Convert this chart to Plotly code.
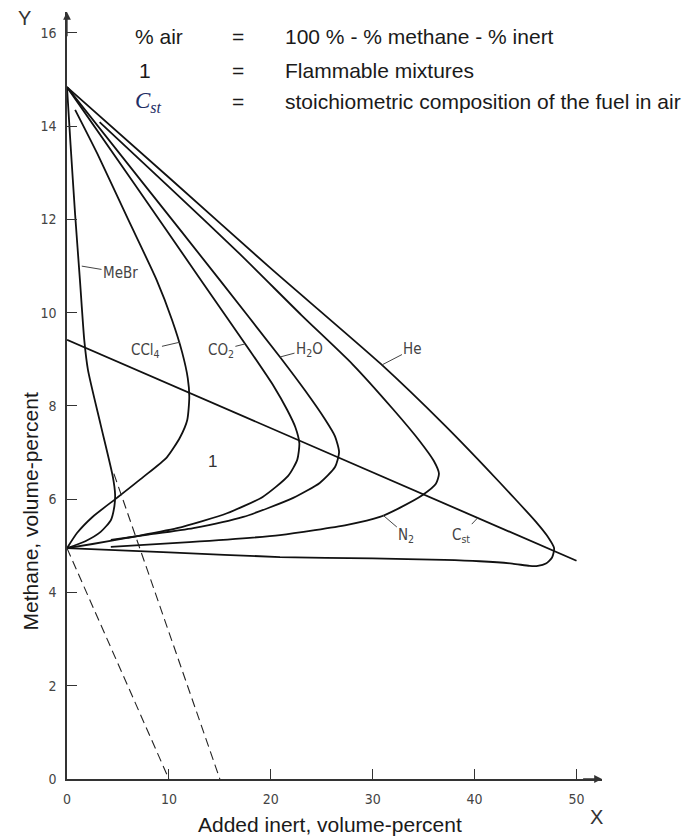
import plotly.graph_objects as go

# ---------------- data ----------------
mebr_x = [0, 0.35, 0.8, 1.27, 1.7, 2.06, 3.3, 4.5, 4.72, 4.65, 4.3, 3.3, 1.8, 0]
mebr_y = [14.84, 13.6, 12.1, 10.7, 9.4, 8.77, 7.6, 6.48, 6.1, 5.85, 5.55, 5.3, 5.1, 4.95]

ccl4_x = [0.8, 3.0, 6.0, 8.8, 10.3, 11.3, 11.85, 12.0, 11.8, 11.1, 9.8, 7.5, 4.9, 2.5, 1.0, 0]
ccl4_y = [14.35, 13.4, 12.0, 10.7, 9.85, 9.15, 8.6, 8.2, 7.7, 7.33, 6.9, 6.48, 6.03, 5.62, 5.28, 4.95]

co2_x = [0, 6.5, 13.3, 18.0, 20.3, 21.6, 22.4, 22.8, 22.6, 21.7, 19.2, 15.7, 10.8, 5.9, 2.5, 0]
co2_y = [14.84, 12.8, 10.65, 9.17, 8.42, 7.92, 7.55, 7.2, 6.85, 6.5, 6.05, 5.7, 5.38, 5.17, 5.04, 4.95]

h2o_x = [0, 7.5, 15.0, 20.9, 23.4, 25.3, 26.3, 26.7, 26.3, 24.8, 22.2, 17.3, 12.4, 8.0, 4.3]
h2o_y = [14.84, 12.77, 10.7, 9.05, 8.32, 7.72, 7.35, 7.01, 6.69, 6.35, 6.03, 5.62, 5.38, 5.24, 5.13]

n2_x = [3.2, 10.0, 17.0, 23.0, 28.0, 32.0, 34.6, 36.0, 36.5, 36.2, 34.9, 32.6, 30.7, 27.5, 20.9, 12.0, 4.3]
n2_y = [14.09, 12.7, 11.25, 9.95, 8.9, 7.93, 7.25, 6.82, 6.55, 6.33, 6.09, 5.81, 5.62, 5.45, 5.23, 5.08, 4.98]

he_x = [0, 10, 20, 30.9, 37.0, 41.0, 44.0, 46.0, 47.1, 47.8, 47.6, 47.0, 46.2, 45.4, 43.7, 40.5, 37.0, 30.0, 20.9, 10.0, 0]
he_y = [14.84, 12.9, 10.95, 8.88, 7.6, 6.7, 6.0, 5.52, 5.22, 4.95, 4.75, 4.62, 4.57, 4.57, 4.62, 4.67, 4.7, 4.73, 4.76, 4.86, 4.95]

cst_x = [0, 50]
cst_y = [9.42, 4.68]

dash1_x = [0, 10]
dash1_y = [4.95, 0]
dash2_x = [4.6, 15]
dash2_y = [6.55, 0]

x_ticks = [0, 10, 20, 30, 40, 50]
y_ticks = [0, 2, 4, 6, 8, 10, 12, 14, 16]

curve_labels = ["MeBr", "CCl<sub>4</sub>", "CO<sub>2</sub>", "H<sub>2</sub>O", "He", "N<sub>2</sub>", "C<sub>st</sub>"]
legend_keys = ["% air", "1", "<i>C<sub>st</sub></i>"]
legend_vals = ["100 % - % methane - % inert", "Flammable mixtures",
               "stoichiometric composition of the fuel in air"]

# ---------------- figure ----------------
fig = go.Figure()
solid = dict(color="#111111", width=1.8, shape="spline", smoothing=0.6)
for xs, ys in [(mebr_x, mebr_y), (ccl4_x, ccl4_y), (co2_x, co2_y), (h2o_x, h2o_y),
               (n2_x, n2_y), (he_x, he_y)]:
    fig.add_trace(go.Scatter(x=xs, y=ys, mode="lines", line=solid,
                             hoverinfo="skip", showlegend=False))
fig.add_trace(go.Scatter(x=cst_x, y=cst_y, mode="lines",
                         line=dict(color="#111111", width=1.8),
                         hoverinfo="skip", showlegend=False))
for xs, ys in [(dash1_x, dash1_y), (dash2_x, dash2_y)]:
    fig.add_trace(go.Scatter(x=xs, y=ys, mode="lines",
                             line=dict(color="#222222", width=1.1, dash="9px,5px"),
                             hoverinfo="skip", showlegend=False))

lab_font = dict(family="Liberation Sans Narrow, DejaVu Sans Condensed, Arial Narrow, sans-serif",
                size=15, color="#444444")
# (point on curve, text centre) for each label
label_geom = [((1.45, 11.0), (5.25, 10.86)),
              ((11.1, 9.37), (7.75, 9.2)),
              ((17.45, 9.33), (15.1, 9.2)),
              ((20.9, 9.05), (23.8, 9.22)),
              ((30.9, 8.88), (33.9, 9.22)),
              ((31.0, 5.66), (33.3, 5.23)),
              ((40.3, 5.6), (38.7, 5.23))]
for txt, ((px, py), (tx, ty)) in zip(curve_labels, label_geom):
    fig.add_annotation(x=px, y=py, ax=tx, ay=ty, axref="x", ayref="y",
                       xref="x", yref="y", text=txt, showarrow=True,
                       arrowhead=0, arrowwidth=1, arrowcolor="#444444",
                       font=lab_font, borderpad=1)

fig.add_annotation(x=14.3, y=6.8, xref="x", yref="y", text="1", showarrow=False,
                   font=dict(family="Liberation Sans, Arial, sans-serif", size=17, color="#333333"))

# top explanatory text
txt_font = dict(family="Liberation Sans, Arial, sans-serif", size=21, color="#1a1a1a")
rows_y = [15.93, 15.2, 14.52]
for k, v, yy in zip(legend_keys, legend_vals, rows_y):
    kf = txt_font if not k.startswith("<i>") else dict(
        family="Liberation Serif, Times New Roman, serif", size=23, color="#1f2f66")
    fig.add_annotation(x=6.47 if k != "1" else 6.85, y=yy, xref="x", yref="y", text=k,
                       showarrow=False, xanchor="left", yanchor="middle", font=kf)
    fig.add_annotation(x=16.76, y=yy, xref="x", yref="y", text="=",
                       showarrow=False, xanchor="center", yanchor="middle", font=txt_font)
    fig.add_annotation(x=21.18, y=yy, xref="x", yref="y", text=v,
                       showarrow=False, xanchor="left", yanchor="middle", font=txt_font)

# axis arrows
fig.add_annotation(x=52.5, y=0, ax=50.5, ay=0, xref="x", yref="y", axref="x", ayref="y",
                   text="", showarrow=True, arrowhead=2, arrowsize=1.2, arrowwidth=1.3,
                   arrowcolor="#333333")
fig.add_annotation(x=0, y=16.45, ax=0, ay=15.9, xref="x", yref="y", axref="x", ayref="y",
                   text="", showarrow=True, arrowhead=2, arrowsize=1.2, arrowwidth=1.3,
                   arrowcolor="#333333")

# axis letters and titles
letter_font = dict(family="Liberation Sans, Arial, sans-serif", size=20, color="#333333")
fig.add_annotation(x=-0.080, y=0.992, xref="paper", yref="paper", text="Y", showarrow=False,
                   xanchor="center", yanchor="middle", font=letter_font)
fig.add_annotation(x=0.9897, y=-0.0495, xref="paper", yref="paper", text="X", showarrow=False,
                   xanchor="center", yanchor="middle", font=letter_font)
fig.add_annotation(x=0.491, y=-0.0587, xref="paper", yref="paper",
                   text="Added inert, volume-percent", showarrow=False,
                   xanchor="center", yanchor="middle",
                   font=dict(family="Liberation Sans, Arial, sans-serif", size=21, color="#1a1a1a"))
fig.add_annotation(x=-0.069, y=0.349, xref="paper", yref="paper", textangle=-90,
                   text="Methane, volume-percent", showarrow=False,
                   xanchor="center", yanchor="middle",
                   font=dict(family="Liberation Sans, Arial, sans-serif", size=21, color="#1a1a1a"))

tick_font = dict(family="Liberation Sans Narrow, DejaVu Sans Condensed, Arial Narrow, sans-serif",
                 size=14, color="#444444")
fig.update_xaxes(range=[0, 52.5], tickvals=x_ticks, ticktext=[str(v) for v in x_ticks],
                 ticks="inside", ticklen=10, tickwidth=1.2, tickcolor="#333333",
                 showline=True, linecolor="#333333", linewidth=1.5,
                 showgrid=False, zeroline=False, tickfont=tick_font,
                 ticklabelstandoff=6)
fig.update_yaxes(range=[0, 16.45], tickvals=y_ticks, ticktext=[str(v) for v in y_ticks],
                 ticks="inside", ticklen=10, tickwidth=1.2, tickcolor="#333333",
                 showline=True, linecolor="#333333", linewidth=1.5,
                 showgrid=False, zeroline=False, tickfont=tick_font,
                 ticklabelstandoff=6)
fig.update_layout(width=699, height=839, margin=dict(l=67, r=96.5, t=12, b=60),
                  plot_bgcolor="white", paper_bgcolor="white", showlegend=False)

fig.write_html("out.html")
